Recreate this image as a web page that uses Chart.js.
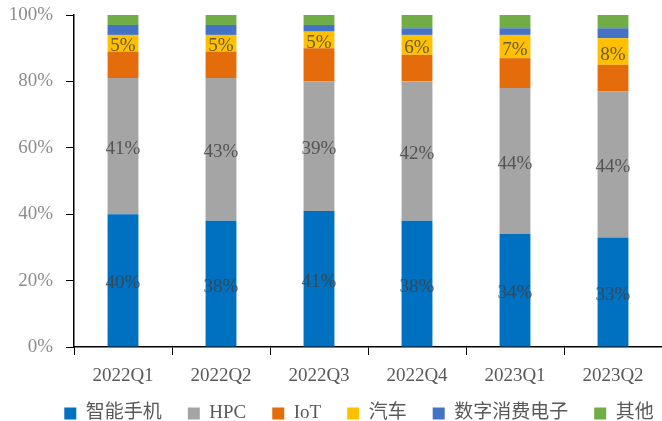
<!DOCTYPE html>
<html>
<head>
<meta charset="utf-8">
<script src="https://cdn.jsdelivr.net/npm/chart.js@4/dist/chart.umd.min.js"></script>
<style>
  body { margin: 0; background: #fff; }
  canvas { display: block; }
</style>
</head>
<body>
<canvas id="grafico" width="662" height="421"></canvas>
<script>
const quarters = ['2022Q1', '2022Q2', '2022Q3', '2022Q4', '2023Q1', '2023Q2'];
const smartphone = [40, 38, 41, 38, 34, 33];
const hpc = [41, 43, 39, 42, 44, 44];
const iot = [8, 8, 10, 8, 9, 8];
const auto = [5, 5, 5, 6, 7, 8];
const consumer = [3, 3, 2, 2, 2, 3];
const others = [3, 3, 3, 4, 4, 4];
const yTicks = [0, 20, 40, 60, 80, 100];

const fonte = '"Liberation Serif", "Noto Sans CJK SC", serif';

// writes the percentage in the middle of each segment of the labelled series
const rotulos = {
  id: 'rotulos',
  afterDatasetsDraw(chart) {
    const ctx = chart.ctx;
    ctx.save();
    ctx.font = '19px ' + fonte;
    ctx.fillStyle = 'rgba(64, 64, 64, 0.8)';
    ctx.textAlign = 'center';
    ctx.textBaseline = 'middle';
    chart.data.datasets.forEach((ds, i) => {
      if (!ds.showLabel) return;
      chart.getDatasetMeta(i).data.forEach((bar, j) => {
        ctx.fillText(ds.data[j] + '%', bar.x, (bar.y + bar.base) / 2 + 3);
      });
    });
    ctx.restore();
  }
};

// the legend keeps a wide gap between items, so its box starts a bit higher
// and sits a little to the right, under the plot
const legendaSubir = {
  id: 'legendaSubir',
  afterLayout(chart) {
    chart.legend.top -= 10;
    chart.legend.left += 24;
    chart.legend.right += 24;
  }
};

function serie(label, data, cor, showLabel) {
  return {
    label: label,
    data: data,
    backgroundColor: cor,
    borderWidth: 0,
    showLabel: showLabel,
    barPercentage: 0.315,
    categoryPercentage: 1
  };
}

new Chart(document.getElementById('grafico'), {
  type: 'bar',
  data: {
    labels: quarters,
    datasets: [
      serie('智能手机', smartphone, '#0070C0', true),
      serie('HPC', hpc, '#A5A5A5', true),
      serie('IoT', iot, '#E46C0A', false),
      serie('汽车', auto, '#FFC000', true),
      serie('数字消费电子', consumer, '#4472C4', false),
      serie('其他', others, '#70AD47', false)
    ]
  },
  options: {
    responsive: false,
    devicePixelRatio: 1,
    animation: false,
    layout: { padding: { left: 8, top: 15, right: 0, bottom: 0 } },
    plugins: {
      tooltip: { enabled: false },
      legend: {
        position: 'bottom',
        maxHeight: 33,
        labels: {
          boxWidth: 12,
          boxHeight: 12,
          padding: 26,
          color: '#595959',
          font: { family: fonte, size: 19 }
        }
      }
    },
    scales: {
      x: {
        stacked: true,
        grid: { drawOnChartArea: false, tickLength: 8, color: '#000', offset: true },
        border: { color: '#000', width: 1.5 },
        ticks: { color: '#595959', padding: 10, font: { family: fonte, size: 19 } },
        afterFit(scale) { scale.height = 41; }
      },
      y: {
        stacked: true,
        min: 0,
        max: 100,
        afterBuildTicks(scale) { scale.ticks = yTicks.map(v => ({ value: v })); },
        afterFit(scale) {
          scale.width = 66;
          scale.paddingTop = 0;
          scale.paddingBottom = 0;
        },
        grid: { drawOnChartArea: false, tickLength: 8, color: '#000' },
        border: { color: '#000', width: 1.5 },
        ticks: {
          color: '#8C8C8C',
          padding: 13,
          font: { family: fonte, size: 19 },
          callback: v => v + '%'
        }
      }
    }
  },
  plugins: [rotulos, legendaSubir]
});
</script>
</body>
</html>
